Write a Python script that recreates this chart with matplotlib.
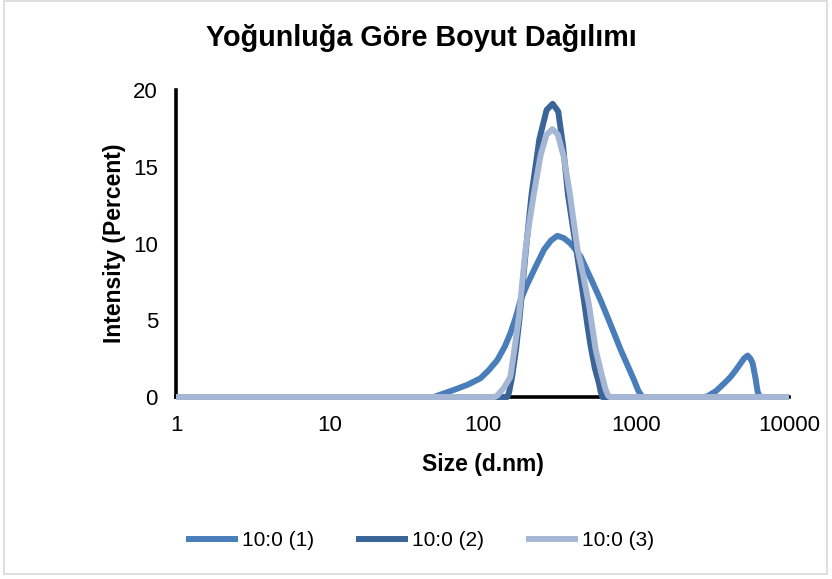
import matplotlib
matplotlib.use('Agg')
import matplotlib.pyplot as plt
from matplotlib.patches import Rectangle

plt.rcParams['font.family'] = ['Liberation Sans', 'DejaVu Sans']

# Size distribution by intensity, three runs of sample 10:0
title = 'Yoğunluğa Göre Boyut Dağılımı'
x_label = 'Size (d.nm)'
y_label = 'Intensity (Percent)'
series_names = ['10:0 (1)', '10:0 (2)', '10:0 (3)']

size_1 = [1, 48, 65, 80, 97, 110, 125, 140, 152, 165, 177, 195, 220, 252, 280, 308,
          340, 375, 405, 437, 510, 590, 680, 798, 890, 975, 1040, 1106,
          2800, 2943, 3350, 3777, 4150, 4506, 4800, 5100, 5370, 5600, 5790, 6050,
          6240, 6460, 10000]
intensity_1 = [0, 0, 0.46, 0.8, 1.22, 1.75, 2.41, 3.3, 4.15, 5.2, 6.3, 7.3, 8.4, 9.6, 10.2, 10.5,
               10.35, 10.0, 9.6, 9.15, 7.7, 6.3, 4.8, 3.07, 2.0, 1.1, 0.4, 0,
               0, 0.05, 0.4, 0.89, 1.3, 1.76, 2.15, 2.52, 2.7, 2.5, 2.2, 1.2,
               0.35, 0, 0]

size_2 = [1, 145, 149, 156, 165, 175, 192, 209, 235, 262, 287, 312, 336, 361, 395,
          430, 459, 485, 508, 540, 575, 590, 605, 10000]
intensity_2 = [0, 0, 0.3, 1.3, 3.0, 5.24, 9.6, 13.2, 16.8, 18.7, 19.1, 18.6, 16.3, 13.2, 10.6,
               8.2, 6.3, 4.6, 3.3, 1.9, 0.9, 0.35, 0, 0]

size_3 = [1, 120, 125, 138, 152, 162, 173, 182, 191, 203, 216, 240, 262, 286, 310,
          340, 372, 417, 455, 495, 548, 605, 635, 660, 676, 10000]
intensity_3 = [0, 0, 0.1, 0.6, 1.3, 3.2, 5.24, 7.5, 9.6, 11.5, 13.2, 15.8, 17.1, 17.45, 17.1,
               15.6, 13.2, 9.6, 7.9, 6.0, 3.07, 1.3, 0.5, 0.1, 0, 0]

x_ticks = [1, 10, 100, 1000, 10000]
y_ticks = [0, 5, 10, 15, 20]

colors = ['#4a7ebb', '#3b6598', '#a6b7d5']

W, H = 832, 579
fig = plt.figure(figsize=(W / 100, H / 100), dpi=100)
ax = fig.add_axes([176 / W, 1 - 397 / H, (789 - 176) / W, (397 - 90) / H])

for sz, val, c, name in zip([size_1, size_2, size_3],
                            [intensity_1, intensity_2, intensity_3],
                            colors, series_names):
    ax.plot(sz, val, color=c, lw=4.3, label=name, clip_on=False,
            solid_capstyle='butt', solid_joinstyle='round', zorder=3)

ax.set_xscale('log')
ax.set_xlim(1, 10000)
ax.set_ylim(0, 20)
ax.set_xticks(x_ticks)
ax.set_xticklabels([str(t) for t in x_ticks])
ax.xaxis.set_minor_locator(matplotlib.ticker.NullLocator())
ax.set_yticks(y_ticks)
ax.tick_params(length=0, labelsize=16, pad=13)

for s in ['top', 'right']:
    ax.spines[s].set_visible(False)
for s in ['left', 'bottom']:
    ax.spines[s].set_linewidth(2.6)
    ax.spines[s].set_color('black')
    ax.spines[s].set_zorder(2)

ax.set_xlabel(x_label, fontsize=16.5, fontweight='bold', labelpad=12)
ax.set_ylabel(y_label, fontsize=16.5, fontweight='bold', labelpad=5)

fig.text(421 / W, 1 - 38 / H, title, ha='center', va='center',
         fontsize=20.7, fontweight='bold')

fig.legend(loc='center', bbox_to_anchor=(420 / W, 1 - 541 / H), ncol=3,
           frameon=False, fontsize=15, handlelength=2.5, handletextpad=0.2,
           columnspacing=2.0)

fig.patches.append(Rectangle((4 / W, 5 / H), (827 - 4) / W, (578 - 5) / H,
                             transform=fig.transFigure, fill=False,
                             edgecolor='#d9d9d9', lw=1.2))

fig.savefig('out.png', dpi=100)
